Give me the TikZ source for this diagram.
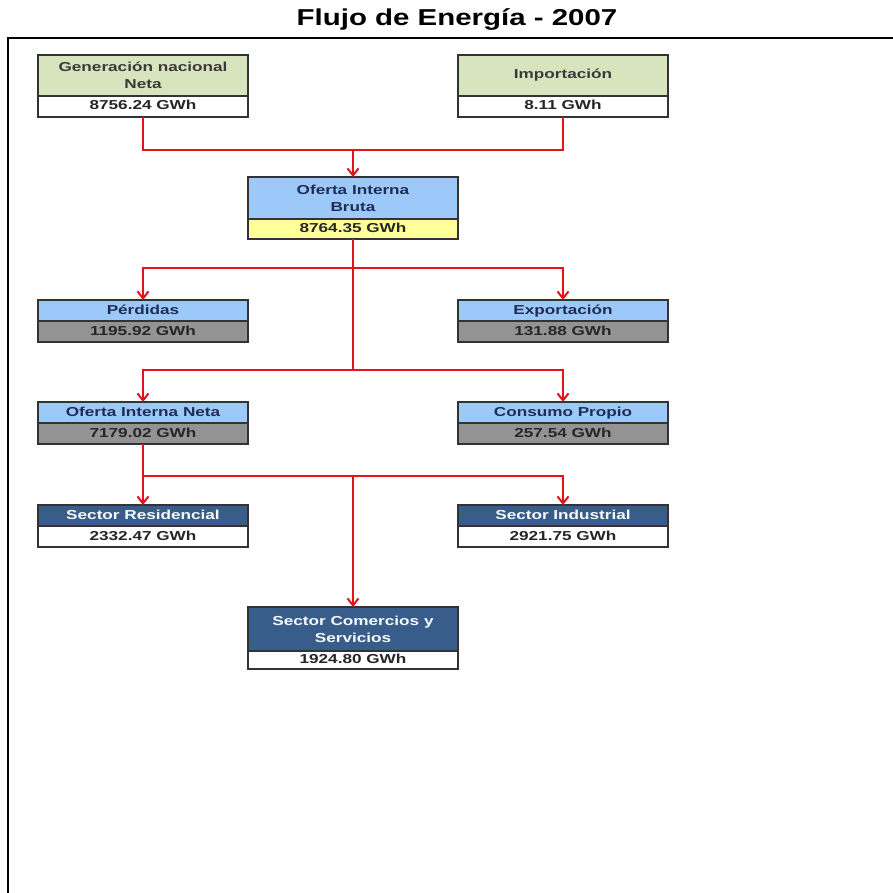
\documentclass[tikz,border=0pt]{standalone}
\usepackage{fontspec}
\setmainfont{Liberation Sans}
\newfontfamily\boxfont[FakeStretch=1.32]{Liberation Sans}
\newfontfamily\titlefont[FakeStretch=1.28]{Liberation Sans}
\usetikzlibrary{arrows.meta}
\definecolor{hgreen}{HTML}{D7E4BD}
\definecolor{hblue}{HTML}{9CC8FA}
\definecolor{vyellow}{HTML}{FFFF99}
\definecolor{vgray}{HTML}{939393}
\definecolor{hdark}{HTML}{385D8A}
\definecolor{flowred}{HTML}{E3121B}
\definecolor{boxline}{HTML}{333333}
\definecolor{txtgray}{HTML}{3A3A3A}
\definecolor{txtnavy}{HTML}{1F2D55}
\begin{document}
\begin{tikzpicture}[x=1pt,y=-1pt,
  hdr/.style={draw=boxline, line width=1.1pt, minimum width=210pt, inner sep=0pt, outer sep=0pt,
    align=center, anchor=north, font=\boxfont\bfseries\fontsize{13}{17}\selectfont, text=txtgray},
  oneline/.style={text height=9.5pt, text depth=2.5pt},
  valbox/.style={hdr, oneline, minimum height=21pt, text=black!85},
  greenhdr/.style={hdr, fill=hgreen, minimum height=41pt},
  bluehdr/.style={hdr, fill=hblue, text=txtnavy},
  darkhdr/.style={hdr, fill=hdark, text=white!92!hblue},
  flow/.style={draw=flowred, line width=2.2pt},
  arr/.style={flow, -{Straight Barb[length=7pt,width=11pt,line width=2pt]}}]
\useasboundingbox (0,0) rectangle (893,893);
\fill[white] (0,0) rectangle (893,893);

\node[font=\titlefont\bfseries\fontsize{23}{26}\selectfont] (title) at (457,20) {Flujo de Energía - 2007};
\draw[line width=2pt] (8,893) -- (8,38) -- (893,38);

% Row 1
\node[greenhdr] (genh) at (143,55) {Generación nacional\\Neta};
\node[valbox, fill=white] (genv) at (genh.south) {8756.24 GWh};
\node[greenhdr, oneline] (imph) at (563,55) {Importación};
\node[valbox, fill=white] (impv) at (imph.south) {8.11 GWh};

% Oferta bruta
\node[bluehdr, minimum height=42pt] (obh) at (353,177) {Oferta Interna\\Bruta};
\node[valbox, fill=vyellow, minimum height=20pt] (obv) at (obh.south) {8764.35 GWh};

% Row 3
\node[bluehdr, oneline, minimum height=21pt] (perh) at (143,300) {Pérdidas};
\node[valbox, fill=vgray] (perv) at (perh.south) {1195.92 GWh};
\node[bluehdr, oneline, minimum height=21pt] (exph) at (563,300) {Exportación};
\node[valbox, fill=vgray] (expv) at (exph.south) {131.88 GWh};

% Row 4
\node[bluehdr, oneline, minimum height=21pt] (neth) at (143,402) {Oferta Interna Neta};
\node[valbox, fill=vgray] (netv) at (neth.south) {7179.02 GWh};
\node[bluehdr, oneline, minimum height=21pt] (conh) at (563,402) {Consumo Propio};
\node[valbox, fill=vgray] (conv) at (conh.south) {257.54 GWh};

% Row 5
\node[darkhdr, oneline, minimum height=21pt] (resh) at (143,505) {Sector Residencial};
\node[valbox, fill=white] (resv) at (resh.south) {2332.47 GWh};
\node[darkhdr, oneline, minimum height=21pt] (indh) at (563,505) {Sector Industrial};
\node[valbox, fill=white] (indv) at (indh.south) {2921.75 GWh};

% Row 6
\node[darkhdr, minimum height=44pt] (comh) at (353,607) {Sector Comercios y\\Servicios};
\node[valbox, fill=white, minimum height=18pt] (comv) at (comh.south) {1924.80 GWh};

% Connectors
\coordinate (j1) at (353,150);
\coordinate (j2) at (353,268);
\coordinate (j3) at (353,370);
\coordinate (j4) at (353,476);

\draw[flow] (genv.south) |- (j1) -| (impv.south);
\draw[arr] (j1) -- (obh.north);
\draw[flow] (obv.south) -- (j3);
\draw[arr] (j2) -| (perh.north);
\draw[arr] (j2) -| (exph.north);
\draw[arr] (j3) -| (neth.north);
\draw[arr] (j3) -| (conh.north);
\draw[arr] (netv.south) -- (resh.north);
\draw[arr] (netv.south |- j4) -| (indh.north);
\draw[arr] (j4) -- (comh.north);
\end{tikzpicture}
\end{document}
